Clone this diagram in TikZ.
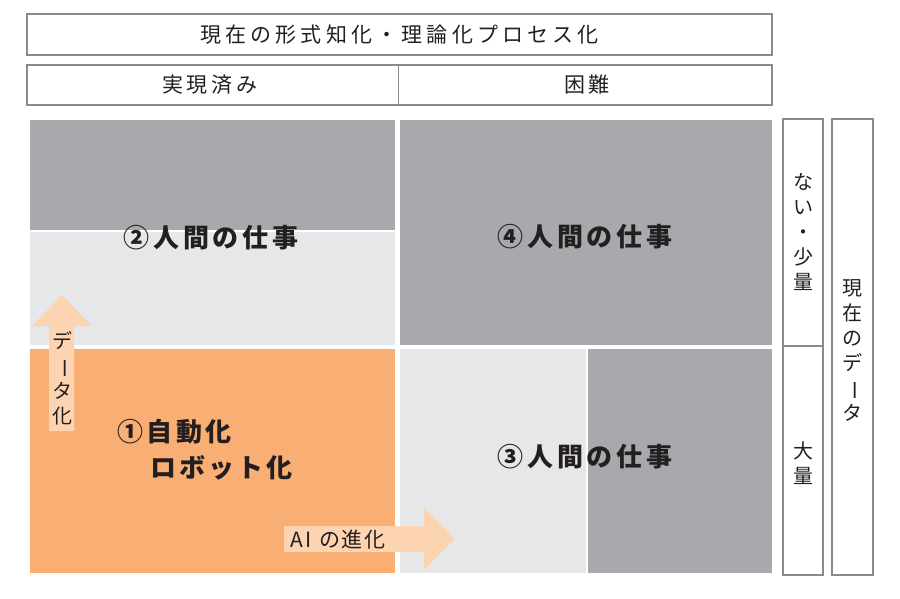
\documentclass[tikz,border=0pt]{standalone}
\usepackage{fontspec}
\usepackage{graphicx}
\setmainfont{Noto Sans CJK JP}
\definecolor{dgray}{HTML}{A7A9AC}
\definecolor{lgray}{HTML}{E6E7E8}
\definecolor{orng}{HTML}{F9AF73}
\definecolor{peach}{HTML}{FDD4B2}
\definecolor{txt}{HTML}{231F20}
\definecolor{edge}{HTML}{8A8A8A}
\newcommand\trk[2]{\def\trkamt{#1}\trackgo#2\relax\relax}
\def\trackgo#1#2{#1\ifx\relax#2\else\kern\trkamt\relax\expandafter\trackgo\expandafter#2\fi}
\newcommand\vbar{\rotatebox[origin=c]{-90}{ー}}
\tikzset{
  hdr/.style={font=\fontsize{21}{24}\selectfont, text=txt, inner sep=0pt},
  big/.style={font=\bfseries\fontsize{26}{30}\selectfont, text=txt, inner sep=0pt},
  vt/.style={font=\fontsize{20}{25}\selectfont, text=txt, align=center, inner sep=0pt},
  frame/.style={draw=edge, line width=1.6pt},
  arr/.style={fill=peach, draw=none},
}
\begin{document}
\begin{tikzpicture}[x=1pt,y=-1pt]
\useasboundingbox (0,0) rectangle (900,599);
% quadrant fills
\fill[dgray] (30,120) rectangle (395,230);
\fill[lgray] (30,232) rectangle (395,345);
\fill[dgray] (400,120) rectangle (772,345);
\fill[orng] (30,349) rectangle (395,573);
\fill[lgray] (400,349) rectangle (586,573);
\fill[dgray] (588,349) rectangle (772,573);
% arrows
\fill[arr] (49,431) -- (49,326) -- (32,326) -- (62,295) -- (92,326) -- (74,326) -- (74,431) -- cycle;
\fill[arr] (284,526) -- (424,526) -- (424,508) -- (455,539) -- (424,570) -- (424,552) -- (284,552) -- cycle;
% frames
\draw[frame] (27,14) rectangle (772,55);
\node[hdr] (title) at (399.5,35) {\trk{4.2pt}{現在の形式知化・理論化プロセス化}};
\draw[frame] (27,65) rectangle (772,105);
\draw[frame] (398.5,65) -- (398.5,105);
\node[hdr] (done) at (210,85) {\trk{4pt}{実現済み}};
\node[hdr] (hard) at (587,85) {\trk{4pt}{困難}};
\draw[frame] (783,119) rectangle (823,575);
\draw[frame] (783,346) -- (823,346);
\draw[frame] (832,119) rectangle (873,575);
% labels
\node[big] (q2) at (211,238) {\trk{3.8pt}{②人間の仕事}};
\node[big] (q4) at (585,237) {\trk{3.8pt}{④人間の仕事}};
\node[big] (q3) at (585,457) {\trk{3.8pt}{③人間の仕事}};
\node[big, anchor=west] (q1a) at (117,432) {\trk{3.5pt}{①自動化}};
\node[big, anchor=west] (q1b) at (150,468) {\trk{3.2pt}{ロボット化}};
\node[hdr] (ai) at (338,540) {\trk{1.5pt}{AI\ の進化}};
\node[vt] (data) at (62,378) {デ\\\vbar\\タ\\化};
\node[vt] (few) at (803,232) {な\\い\\・\\少\\量};
\node[vt] (many) at (803,463) {大\\量};
\node[vt] (cur) at (852,350) {現\\在\\の\\デ\\\vbar\\タ};
\end{tikzpicture}
\end{document}
